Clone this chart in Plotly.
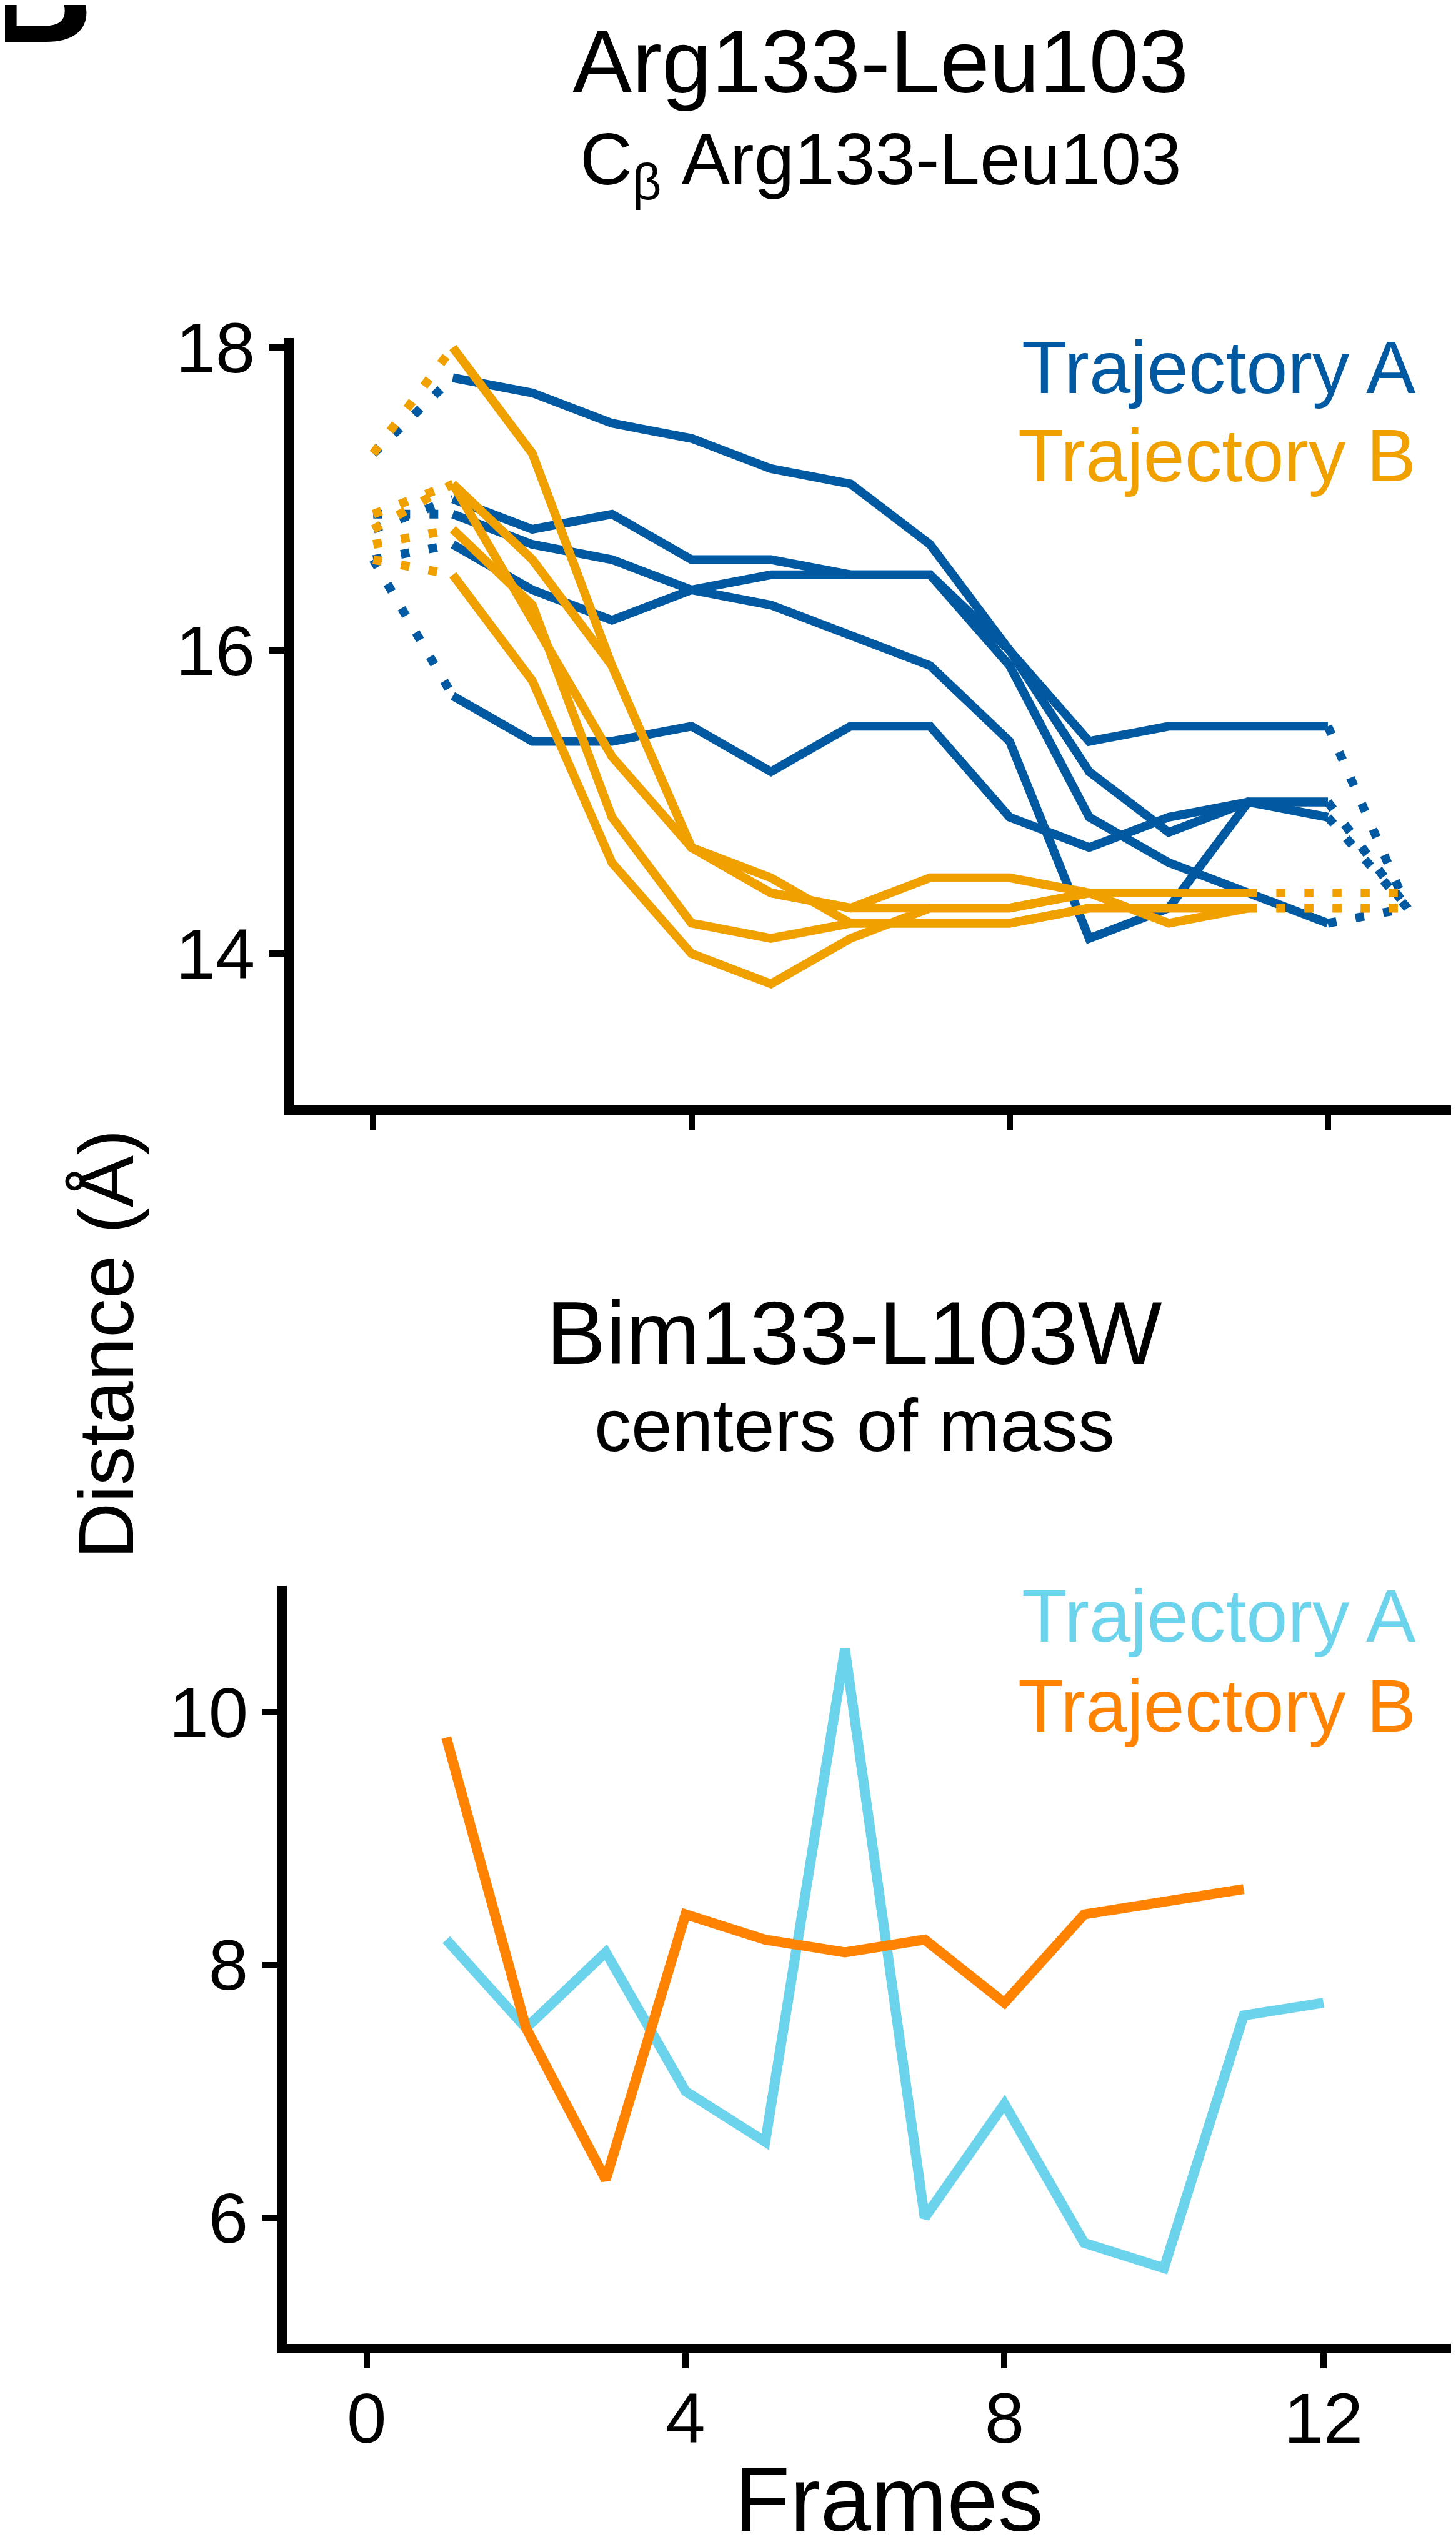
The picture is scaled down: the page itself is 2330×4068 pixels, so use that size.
import plotly.graph_objects as go

# ---------------- data ----------------
# Top panel: C-beta Arg133-Leu103 distance (Å); frames 1..12 (A) and 1..11 (B)
frames_A_top = list(range(1, 13))
frames_B_top = list(range(1, 12))

A1 = [17.8, 17.7, 17.5, 17.4, 17.2, 17.1, 16.7, 16.0, 15.2, 14.8, 15.0, 14.9]
A2 = [17.0, 16.8, 16.9, 16.6, 16.6, 16.5, 16.5, 15.9, 14.9, 14.6, 14.4, 14.2]
A3 = [16.9, 16.7, 16.6, 16.4, 16.3, 16.1, 15.9, 15.4, 14.1, 14.3, 15.0, 15.0]
A4 = [16.7, 16.4, 16.2, 16.4, 16.5, 16.5, 16.5, 16.0, 15.4, 15.5, 15.5, 15.5]
A5 = [15.7, 15.4, 15.4, 15.5, 15.2, 15.5, 15.5, 14.9, 14.7, 14.9, 15.0, 15.0]
A_start = [17.3, 16.8, 16.9, 16.6, 16.6]   # frame 0 (dotted)
A_end = [14.3, 14.3, 14.3, 14.3, 14.3]     # frame 13 (dotted)

B1 = [18.0, 17.3, 15.9, 14.7, 14.5, 14.2, 14.2, 14.2, 14.3, 14.3, 14.3]
B2 = [17.1, 16.6, 15.9, 14.7, 14.4, 14.3, 14.5, 14.5, 14.4, 14.4, 14.4]
B3 = [17.1, 16.2, 15.3, 14.7, 14.4, 14.3, 14.3, 14.3, 14.4, 14.4, 14.4]
B4 = [16.8, 16.3, 14.9, 14.2, 14.1, 14.2, 14.2, 14.2, 14.3, 14.3, 14.3]
B5 = [16.5, 15.8, 14.6, 14.0, 13.8, 14.1, 14.3, 14.3, 14.4, 14.2, 14.3]
B_start = [17.3, 16.9, 16.8, 16.7, 16.6]
B_end = [14.3, 14.4, 14.4, 14.3, 14.3]

frame_start = 0
frame_end = 13

# Bottom panel: Bim133-L103W centers of mass distance (Å)
frames_A_bot = list(range(1, 13))
frames_B_bot = list(range(1, 12))
A_bot = [8.2, 7.5, 8.1, 7.0, 6.6, 10.5, 6.0, 6.9, 5.8, 5.6, 7.6, 7.7]
B_bot = [9.8, 7.5, 6.3, 8.4, 8.2, 8.1, 8.2, 7.7, 8.4, 8.5, 8.6]

x_ticks = [0, 4, 8, 12]
y_ticks_top = [14, 16, 18]
y_ticks_bot = [6, 8, 10]

# ---------------- style ----------------
W, H = 2330, 4068
OFF = 8  # page body offset compensation
FONT = "Liberation Sans, Arial, Helvetica, sans-serif"
C_A_TOP = "#0059A1"
C_B_TOP = "#F0A100"
C_A_BOT = "#6BD3EC"
C_B_BOT = "#FF8200"
LW_TOP = 14
LW_BOT = 16
DOT = "14px,31px"

fig = go.Figure()


def add_top(frames, vals, start, end, color):
    fig.add_trace(go.Scatter(x=[frame_start, frames[0]], y=[start, vals[0]], mode="lines",
                             line=dict(color=color, width=LW_TOP, dash=DOT),
                             xaxis="x", yaxis="y", hoverinfo="skip"))
    fig.add_trace(go.Scatter(x=[frames[-1], frame_end], y=[vals[-1], end], mode="lines",
                             line=dict(color=color, width=LW_TOP, dash=DOT),
                             xaxis="x", yaxis="y", hoverinfo="skip"))
    fig.add_trace(go.Scatter(x=frames, y=vals, mode="lines",
                             line=dict(color=color, width=LW_TOP),
                             xaxis="x", yaxis="y"))


for vals, s, e in zip([A1, A2, A3, A4, A5], A_start, A_end):
    add_top(frames_A_top, vals, s, e, C_A_TOP)
for vals, s, e in zip([B1, B2, B3, B4, B5], B_start, B_end):
    add_top(frames_B_top, vals, s, e, C_B_TOP)

fig.add_trace(go.Scatter(x=frames_A_bot, y=A_bot, mode="lines",
                         line=dict(color=C_A_BOT, width=LW_BOT), xaxis="x2", yaxis="y2"))
fig.add_trace(go.Scatter(x=frames_B_bot, y=B_bot, mode="lines",
                         line=dict(color=C_B_BOT, width=LW_BOT), xaxis="x2", yaxis="y2"))


# ---------------- layout ----------------
def py(pix):
    return 1 - (pix - OFF) / H


def px(pix):
    return (pix - OFF) / W


axis_common = dict(showline=True, linewidth=15, linecolor="black", ticks="outside",
                   ticklen=24, tickwidth=10, tickcolor="black", showgrid=False,
                   zeroline=False, automargin=False,
                   tickfont=dict(family=FONT, size=114, color="black"))

PX_TOP = 242.5   # px per unit (top y)
top_dom = [py(1768.5), py(556 - 0.06 * PX_TOP)]
bot_dom = [py(3751), py(2538)]

x_top_left, x_bot_left = 470, 459
x_top_ppu, x_bot_ppu = 127.3, 127.6
x_top_max = -1 + (W + OFF - x_top_left) / x_top_ppu
x_bot_max = -1 + (W + OFF - x_bot_left) / x_bot_ppu

fig.update_layout(
    width=W, height=H,
    margin=dict(l=0, r=0, t=0, b=0, autoexpand=False),
    paper_bgcolor="white", plot_bgcolor="white",
    showlegend=False,
    font=dict(family=FONT, color="black"),
    xaxis=dict(domain=[px(x_top_left), 1], range=[-1, x_top_max], tickvals=x_ticks,
               showticklabels=False, anchor="y", **axis_common),
    yaxis=dict(domain=top_dom, range=[13, 18.06], tickvals=y_ticks_top,
               anchor="x", ticklabelstandoff=0, **axis_common),
    xaxis2=dict(domain=[px(x_bot_left), 1], range=[-1, x_bot_max], tickvals=x_ticks,
                anchor="y2", ticklabelstandoff=-18, **axis_common),
    yaxis2=dict(domain=bot_dom, range=[5, 11], tickvals=y_ticks_bot,
                anchor="x2", ticklabelstandoff=0, **axis_common),
)


def ann(text, x, y, size, color="black", xanchor="center", angle=0, bold=False):
    fig.add_annotation(text=("<b>%s</b>" % text) if bold else text,
                       x=px(x), y=py(y), xref="paper", yref="paper",
                       xanchor=xanchor, yanchor="middle", showarrow=False,
                       textangle=angle,
                       font=dict(family=FONT, size=size, color=color))


ann("Arg133-Leu103", 1409, 98, 143)
ann("C<sub>β</sub> Arg133-Leu103", 1409, 263, 116)
ann("Trajectory A", 2268, 588, 119, C_A_TOP, xanchor="right")
ann("Trajectory B", 2268, 728, 119, C_B_TOP, xanchor="right")
ann("Bim133-L103W", 1367, 2133, 143)
ann("centers of mass", 1367, 2281, 118)
ann("Trajectory A", 2268, 2585, 119, C_A_BOT, xanchor="right")
ann("Trajectory B", 2268, 2729, 119, C_B_BOT, xanchor="right")
ann("Distance (Å)", 169, 2151, 125, angle=-90)
ann("Frames", 1422, 3999, 146)
ann("B", 151, -16, 240, xanchor="right", bold=True)

fig.write_html("out.html")
